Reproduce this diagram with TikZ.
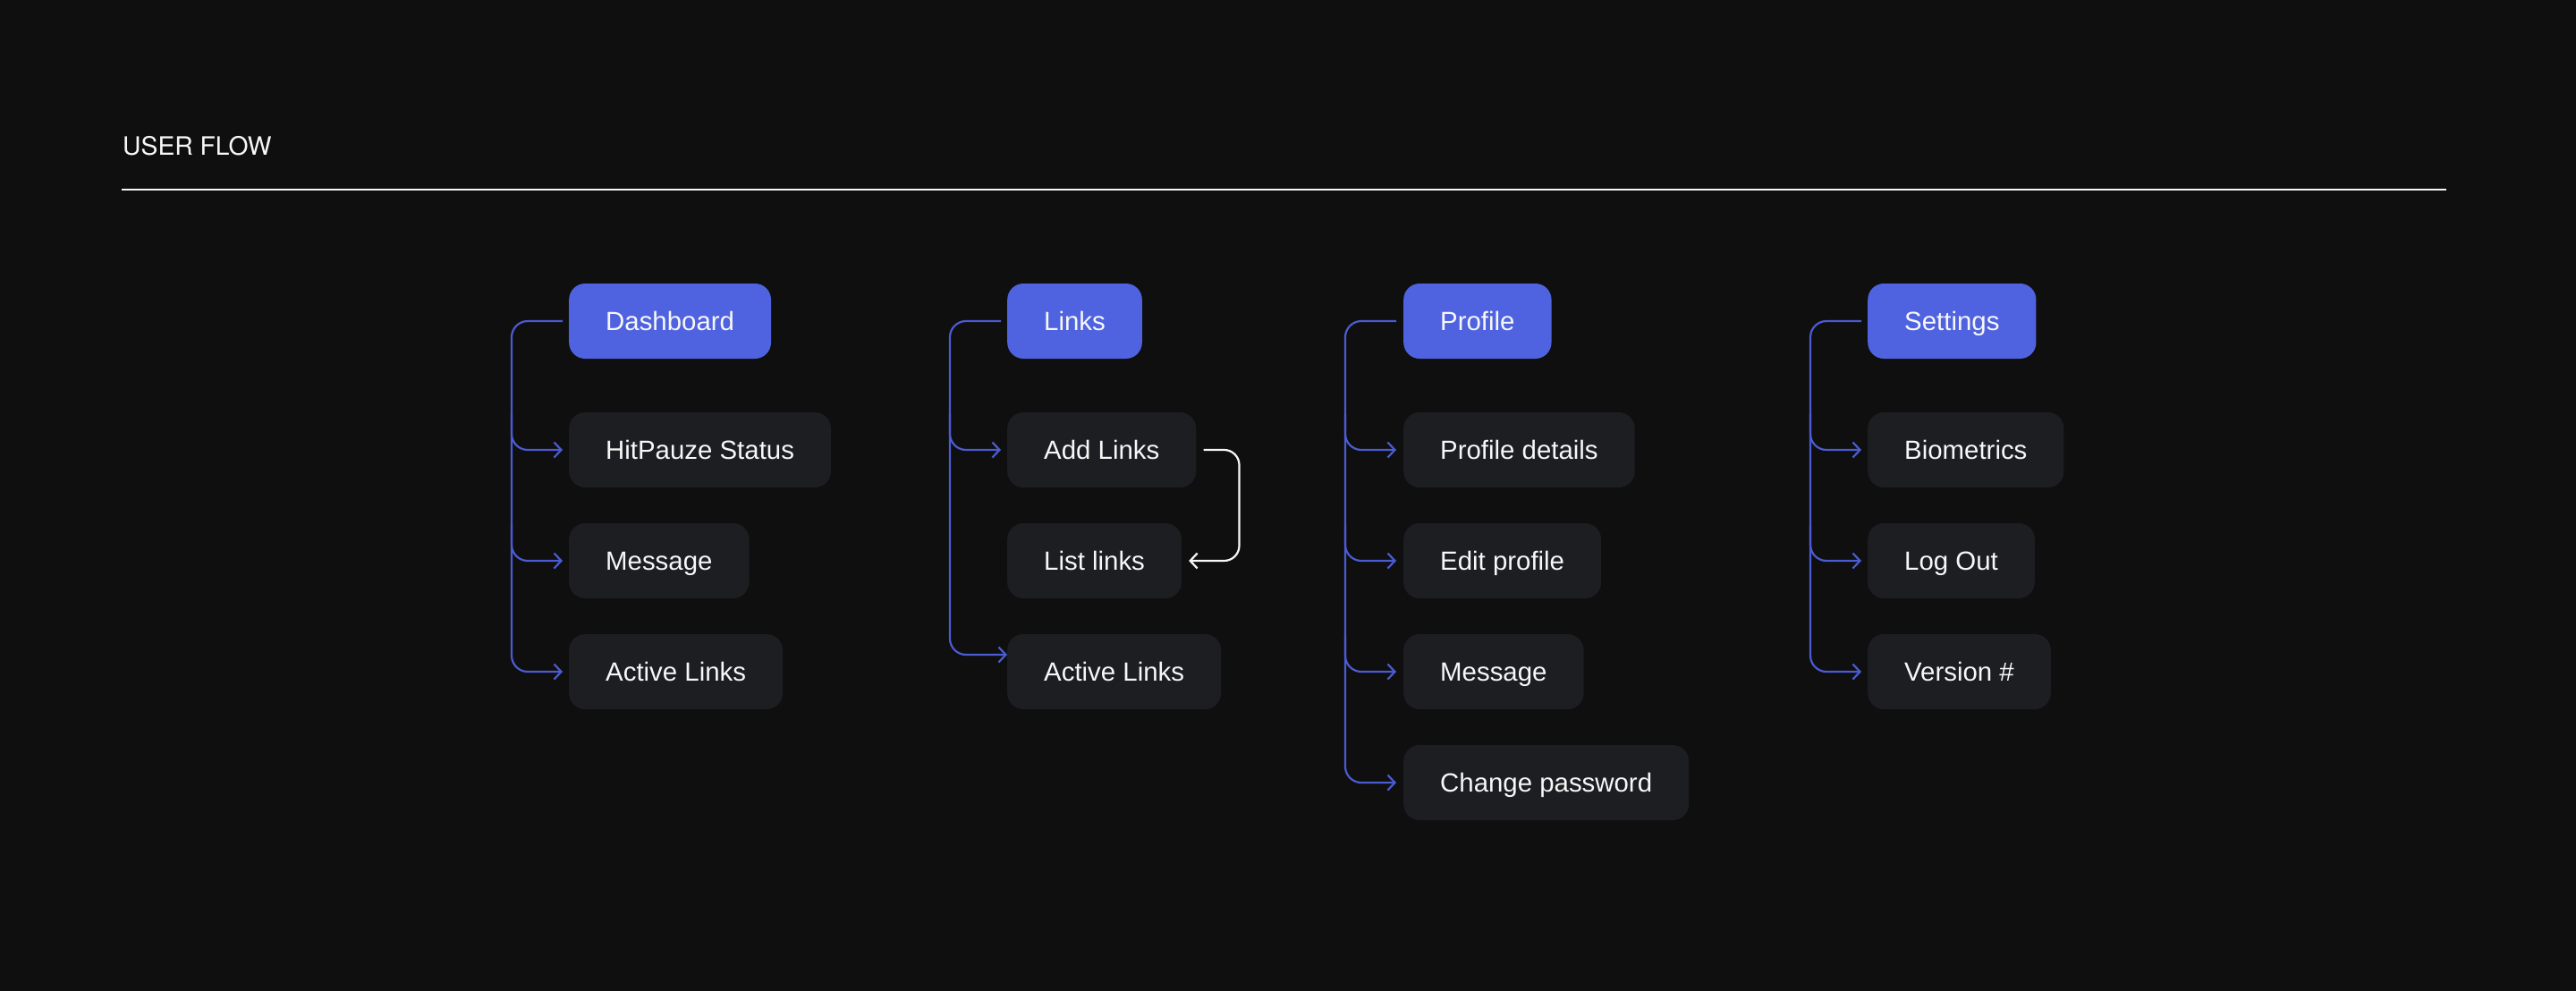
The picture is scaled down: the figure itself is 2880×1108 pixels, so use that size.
\documentclass[tikz,border=0pt]{standalone}
\usepackage{fontspec}
\setmainfont{Liberation Sans}
\newfontfamily\titlefont{TeX Gyre Heros}
\usetikzlibrary{arrows.meta}
\definecolor{bg}{HTML}{0F0F0F}
\definecolor{rootblue}{HTML}{4F63E0}
\definecolor{itemgray}{HTML}{1D1E22}
\definecolor{lineblue}{HTML}{4B5BD2}
\definecolor{txt}{HTML}{F7F7F7}
\begin{document}
\begin{tikzpicture}[x=1pt,y=-1pt,
  box/.style={anchor=west, rounded corners=18pt, minimum height=84pt, inner xsep=41pt, inner ysep=0pt,
    text height=21.5pt, text depth=0pt, font=\fontsize{29.4}{36}\selectfont, text=txt},
  rootbox/.style={box, fill=rootblue},
  itembox/.style={box, fill=itemgray},
  flow/.style={draw=lineblue, line width=2.2pt, rounded corners=18pt},
  tipend/.style={-{Straight Barb[length=8pt,width=17pt]}}
]
\fill[bg] (0,0) rectangle (2880,1108);
\useasboundingbox (0,0) rectangle (2880,1108);

% title
\node[anchor=base west, inner sep=0pt, font=\titlefont\fontsize{28.3}{34}\selectfont, text=txt] (title) at (137,173) {USER FLOW};
\draw[txt, line width=2pt] (136,212) -- (2735,212);

% Dashboard column
\node[rootbox] (dash) at (636,359) {Dashboard};
\node[itembox] (dhp) at (636,503) {HitPauze Status};
\node[itembox] (dmsg) at (636,627) {Message};
\node[itembox] (dact) at (636,751) {Active Links};

% Links column
\node[rootbox] (links) at (1126,359) {Links};
\node[itembox] (ladd) at (1126,503) {Add Links};
\node[itembox] (llist) at (1126,627) {List links};
\node[itembox] (lact) at (1126,751) {Active Links};

% Profile column
\node[rootbox] (prof) at (1569,359) {Profile};
\node[itembox] (pdet) at (1569,503) {Profile details};
\node[itembox] (pedit) at (1569,627) {Edit profile};
\node[itembox] (pmsg) at (1569,751) {Message};
\node[itembox] (ppw) at (1569,875) {Change password};

% Settings column
\node[rootbox] (sett) at (2088,359) {Settings};
\node[itembox] (sbio) at (2088,503) {Biometrics};
\node[itembox] (slog) at (2088,627) {Log Out};
\node[itembox] (sver) at (2088,751) {Version \#};

% Dashboard connectors
\draw[flow,tipend] ([xshift=-7pt]dash.west) -| ([xshift=-64pt]dact.west) -- ([xshift=-7pt]dact.west);
\draw[flow,tipend] ([xshift=-64pt,yshift=40pt]dhp.west) |- ([xshift=-7pt]dhp.west);
\draw[flow,tipend] ([xshift=-64pt,yshift=40pt]dmsg.west) |- ([xshift=-7pt]dmsg.west);

% Links connectors
\draw[flow,tipend] ([xshift=-7pt]links.west) -| ([xshift=-64pt,yshift=19pt]lact.west) -- ([yshift=19pt]lact.west);
\draw[flow,tipend] ([xshift=-64pt,yshift=40pt]ladd.west) |- ([xshift=-7pt]ladd.west);
\draw[txt, line width=2.2pt, rounded corners=17pt, tipend] ([xshift=8pt]ladd.east) -- ++(40,0) |- ([xshift=8pt]llist.east);

% Profile connectors
\draw[flow,tipend] ([xshift=-8pt]prof.west) -| ([xshift=-65pt]ppw.west) -- ([xshift=-8pt]ppw.west);
\draw[flow,tipend] ([xshift=-65pt,yshift=40pt]pdet.west) |- ([xshift=-8pt]pdet.west);
\draw[flow,tipend] ([xshift=-65pt,yshift=40pt]pedit.west) |- ([xshift=-8pt]pedit.west);
\draw[flow,tipend] ([xshift=-65pt,yshift=40pt]pmsg.west) |- ([xshift=-8pt]pmsg.west);

% Settings connectors
\draw[flow,tipend] ([xshift=-7pt]sett.west) -| ([xshift=-64pt]sver.west) -- ([xshift=-7pt]sver.west);
\draw[flow,tipend] ([xshift=-64pt,yshift=40pt]sbio.west) |- ([xshift=-7pt]sbio.west);
\draw[flow,tipend] ([xshift=-64pt,yshift=40pt]slog.west) |- ([xshift=-7pt]slog.west);
\end{tikzpicture}
\end{document}
